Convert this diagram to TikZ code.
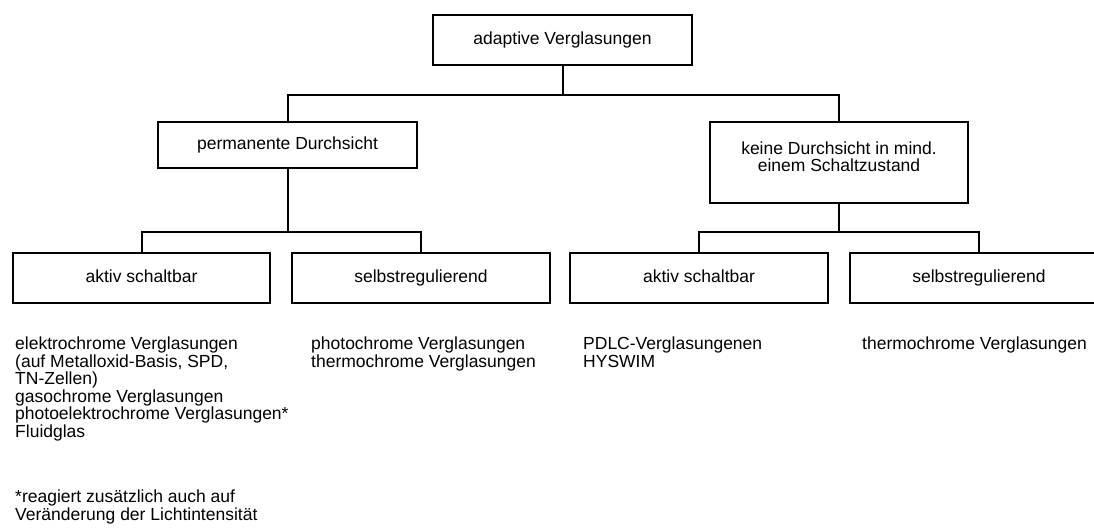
\documentclass[tikz,border=0pt]{standalone}
\usepackage{fontspec}
\setmainfont{Liberation Sans}
\tikzset{
  kasten/.style={draw, line width=2pt, inner sep=0pt, align=center,
    font=\fontsize{17.5}{17}\selectfont},
  einzeilig/.style={kasten, text height=12.6pt, text depth=3.7pt},
  liste/.style={anchor=north west, inner sep=0pt, align=left,
    font=\fontsize{17.5}{17.5}\selectfont},
  linie/.style={line width=2pt}
}
\begin{document}
\begin{tikzpicture}[x=1pt, y=-1pt]
\useasboundingbox (0,0) rectangle (1094,531);

% Boxes
\node[einzeilig, minimum width=259pt, minimum height=50pt] (adaptiv) at (562.5,40) {adaptive Verglasungen};
\node[einzeilig, minimum width=259pt, minimum height=46pt] (permanent) at (287.5,145) {permanente Durchsicht};
\node[kasten, minimum width=258pt, minimum height=81pt] (keine) at (839,162.5) {keine Durchsicht in mind.\\einem Schaltzustand\\[-6pt]};
\node[einzeilig, minimum width=257pt, minimum height=50pt] (aktivA) at (141.5,278) {aktiv schaltbar};
\node[einzeilig, minimum width=258pt, minimum height=50pt] (selbstA) at (421,278) {selbstregulierend};
\node[einzeilig, minimum width=258pt, minimum height=50pt] (aktivB) at (699,278) {aktiv schaltbar};
\node[einzeilig, minimum width=258pt, minimum height=50pt] (selbstB) at (979,278) {selbstregulierend};

% Connectors
\coordinate (busO) at (562.5,95);
\coordinate (busL) at (287.5,232);
\coordinate (busR) at (839,232);
\draw[linie] (adaptiv) -- (busO);
\draw[linie] (permanent.north) |- (busO) -| (keine.north);
\draw[linie] (permanent) -- (busL);
\draw[linie] (aktivA.north) |- (busL) -| (selbstA.north);
\draw[linie] (keine) -- (busR);
\draw[linie] (aktivB.north) |- (busR) -| (selbstB.north);

% Lists
\node[liste] (listeA) at (15,337) {elektrochrome Verglasungen\\(auf Metalloxid-Basis, SPD,\\TN-Zellen)\\gasochrome Verglasungen\\photoelektrochrome Verglasungen*\\Fluidglas};
\node[liste] (listeB) at (311,337) {photochrome Verglasungen\\thermochrome Verglasungen};
\node[liste] (listeC) at (583,337) {PDLC-Verglasungenen\\HYSWIM};
\node[liste] (listeD) at (862,337) {thermochrome Verglasungen};
\node[liste] (fussnote) at (15,490) {*reagiert zus\"atzlich auch auf\\Ver\"anderung der Lichtintensit\"at};
\end{tikzpicture}
\end{document}
